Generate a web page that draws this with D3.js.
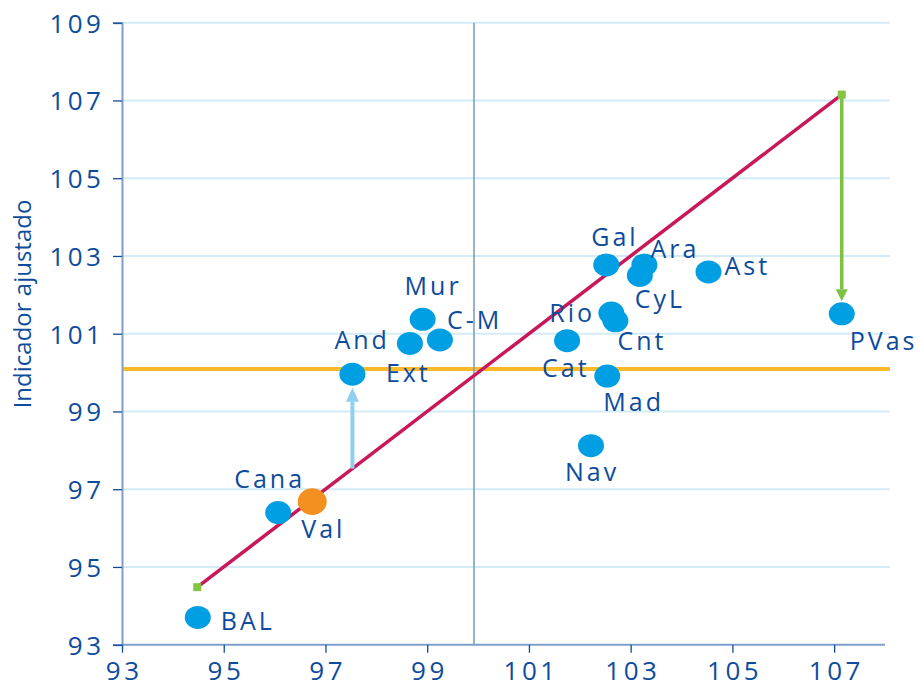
<!DOCTYPE html>
<html>
<head>
<meta charset="utf-8">
<script src="https://cdn.jsdelivr.net/npm/d3@7"></script>
<style>
  body { margin: 0; background: #fff; }
  svg { display: block; font-family: 'Open Sans', sans-serif; }
</style>
</head>
<body>
<div id="chart"></div>
<script>
// regions (labels), indicator x, adjusted indicator y
var names = ['BAL', 'Cana', 'Val', 'And', 'Ext', 'Mur', 'C-M', 'Cat', 'Rio', 'Cnt', 'Mad', 'Nav', 'Gal', 'Ara', 'CyL', 'Ast', 'PVas']
var xVals = [94.49, 96.07, 96.74, 97.53, 98.66, 98.91, 99.25, 101.75, 102.62, 102.70, 102.54, 102.22, 102.52, 103.27, 103.18, 104.53, 107.15]
var yVals = [93.70, 96.40, 96.68, 99.96, 100.75, 101.37, 100.84, 100.82, 101.53, 101.33, 99.91, 98.12, 102.77, 102.77, 102.50, 102.59, 101.51]
var highlight = 'Val'

var xTicks = [93, 95, 97, 99, 101, 103, 105, 107]
var yTicks = [93, 95, 97, 99, 101, 103, 105, 107, 109]
var meanX = 99.92
var meanY = 100.09
var diagStart = 94.48
var diagEnd = 107.15
var arrowFrom = ['And', 'PVas']

// label placement relative to point centre (px)
var labelOffset = {
  BAL: [23, 13], Cana: [-44, -25], Val: [-11, 36], And: [-18, -25], Ext: [-24, 39],
  Mur: [-18, -24], 'C-M': [7, -11], Cat: [-25, 36], Rio: [-62, 9], Cnt: [2, 29],
  Mad: [-4, 35], Nav: [-26, 35], Gal: [-15, -19], Ara: [6, -7], CyL: [-5, 33],
  Ast: [16, 3], PVas: [8, 36]
}

var width = 920
var height = 687
var margin = {top: 22.7, right: 35, bottom: 42.3, left: 122}

var textCol = '#0d4c9c'
var axisCol = '#7e9fcc'
var gridCol = '#d3ebf7'

var x = d3.scaleLinear().domain([93, 108]).range([margin.left, width - margin.right])
var y = d3.scaleLinear().domain([93, 109]).range([height - margin.bottom, margin.top])

var svg = d3.select('#chart').append('svg')
    .attr('width', width)
    .attr('height', height)

var data = names.map(function (n, i) {
  return {name: n, x: xVals[i], y: yVals[i]}
})

// horizontal grid
svg.append('g')
  .selectAll('line')
  .data(yTicks.slice(1))
  .enter().append('line')
    .attr('x1', x(93))
    .attr('x2', x(108) + 5)
    .attr('y1', d => y(d))
    .attr('y2', d => y(d))
    .attr('stroke', gridCol)
    .attr('stroke-width', 2)

// mean lines
svg.append('line')
  .attr('x1', x(93)).attr('x2', x(108) + 5)
  .attr('y1', y(meanY)).attr('y2', y(meanY))
  .attr('stroke', '#fbb829')
  .attr('stroke-width', 4)

svg.append('line')
  .attr('x1', x(meanX)).attr('x2', x(meanX))
  .attr('y1', y(109)).attr('y2', y(93))
  .attr('stroke', axisCol)
  .attr('stroke-width', 1.6)

// axes
var yAxis = svg.append('g')
  .attr('transform', 'translate(' + margin.left + ',0)')
  .call(d3.axisLeft(y).tickValues(yTicks).tickSize(9).tickPadding(12).tickFormat(d3.format('d')))

var xAxis = svg.append('g')
  .attr('transform', 'translate(0,' + y(93) + ')')
  .call(d3.axisBottom(x).tickValues(xTicks).tickSize(8).tickPadding(12).tickFormat(d3.format('d')))

;[yAxis, xAxis].forEach(function (g) {
  g.select('.domain').attr('stroke', axisCol).attr('stroke-width', 2)
  g.selectAll('.tick line').attr('stroke', textCol).attr('stroke-width', 1.3)
  g.selectAll('.tick text')
    .attr('fill', textCol)
    .attr('font-size', '26px')
    .attr('font-weight', 500)
    .attr('letter-spacing', '3.5px')
    .attr('font-family', "'Open Sans', sans-serif")
})
yAxis.selectAll('.tick text').attr('dy', '0.36em').attr('dx', '3.5px')
xAxis.selectAll('.tick text').attr('dy', '0.6em').attr('dx', '1.7px')
xAxis.select('.domain').attr('d', 'M' + x(93) + ',0H' + x(108))

svg.append('text')
  .attr('transform', 'translate(31,' + 304 + ') rotate(-90)')
  .attr('text-anchor', 'middle')
  .attr('fill', textCol)
  .attr('font-size', '24px')
  .text('Indicador ajustado')

// diagonal
svg.append('line')
  .attr('x1', x(diagStart)).attr('y1', y(diagStart))
  .attr('x2', x(diagEnd)).attr('y2', y(diagEnd))
  .attr('stroke', '#c8185a')
  .attr('stroke-width', 3.5)

// arrows from the diagonal to the region
var rx = 13, ry = 11.5
arrowFrom.forEach(function (n) {
  var d = data.find(v => v.name == n)
  var up = d.y > d.x
  var col = up ? '#8fd0f0' : '#7dc242'
  var lw = up ? 4 : 3.5
  var head = up ? 14 : 12
  var hw = up ? 6.5 : 6
  var x0 = x(d.x)
  var yStart = y(d.x)
  var yTip = y(d.y) + (up ? ry + 2 : -ry - 1)
  var yBase = yTip + (up ? head : -head)
  svg.append('line')
    .attr('x1', x0).attr('x2', x0)
    .attr('y1', yStart).attr('y2', yBase)
    .attr('stroke', col)
    .attr('stroke-width', lw)
  svg.append('path')
    .attr('d', 'M' + x0 + ',' + yTip + 'L' + (x0 - hw) + ',' + yBase + 'L' + (x0 + hw) + ',' + yBase + 'Z')
    .attr('fill', col)
})

// diagonal end markers
svg.append('g')
  .selectAll('rect')
  .data([diagStart, diagEnd])
  .enter().append('rect')
    .attr('x', d => x(d) - 4)
    .attr('y', d => y(d) - 4)
    .attr('width', 8)
    .attr('height', 8)
    .attr('fill', '#84c441')

// points
svg.append('g')
  .selectAll('ellipse')
  .data(data)
  .enter().append('ellipse')
    .attr('cx', d => x(d.x))
    .attr('cy', d => y(d.y))
    .attr('rx', d => d.name == highlight ? 14.5 : rx)
    .attr('ry', d => d.name == highlight ? 13.3 : ry)
    .attr('fill', d => d.name == highlight ? '#f39020' : '#009fe3')

// labels
svg.append('g')
  .selectAll('text')
  .data(data)
  .enter().append('text')
    .attr('x', d => x(d.x) + labelOffset[d.name][0])
    .attr('y', d => y(d.y) + labelOffset[d.name][1])
    .attr('fill', textCol)
    .attr('font-size', '25px')
    .attr('font-weight', 500)
    .attr('letter-spacing', '3px')
    .text(d => d.name)
</script>
</body>
</html>
